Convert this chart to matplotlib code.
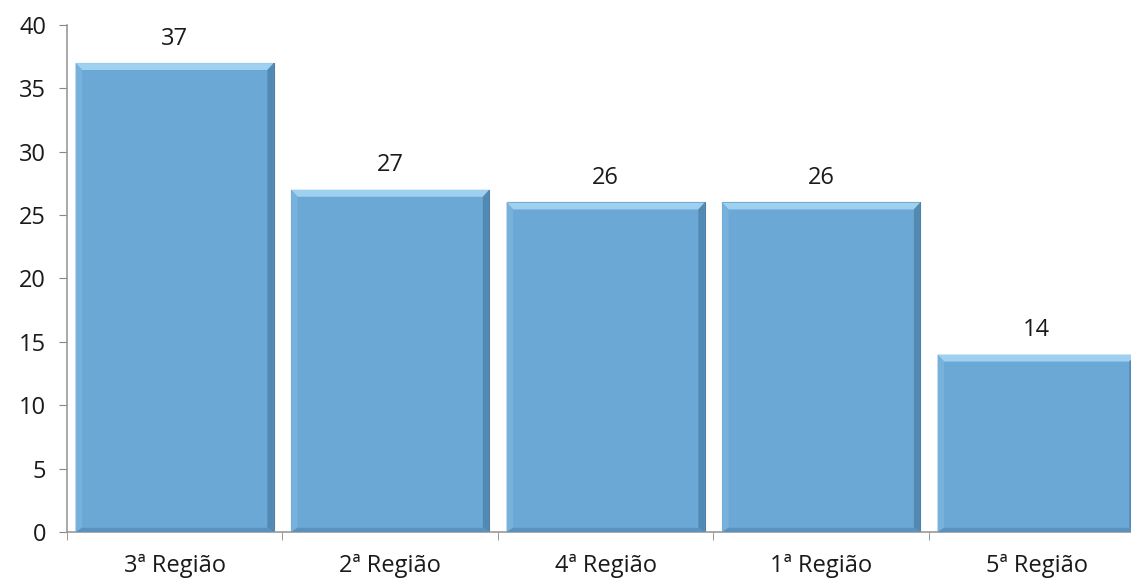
import matplotlib.pyplot as plt
from matplotlib.patches import Polygon

regioes = ['3ª Região', '2ª Região', '4ª Região', '1ª Região', '5ª Região']
valores = [37, 27, 26, 26, 14]
yticks = [0, 5, 10, 15, 20, 25, 30, 35, 40]

plt.rcParams['font.family'] = ['Open Sans', 'DejaVu Sans']

fig = plt.figure(figsize=(11.31, 5.79), dpi=100)
# a ultima barra passa da borda direita como no original
ax = fig.add_axes([0.0592, 0.0812, 0.9527, 0.8756])

x = list(range(len(regioes)))
bars = ax.bar(x, valores, width=0.92, color='#6CA8D5', edgecolor='#4D7FA6',
              linewidth=0.8, zorder=2)

# efeito de bisel: faixa clara em cima, sombra na direita e embaixo
bx, by = 0.03, 0.55
for b in bars:
    x0, w, h = b.get_x(), b.get_width(), b.get_height()
    x1 = x0 + w
    top = Polygon([(x0, h), (x1, h), (x1 - bx, h - by), (x0 + bx, h - by)],
                  closed=True, facecolor='#9ED0F0', edgecolor='none', zorder=3)
    right = Polygon([(x1, h), (x1, 0), (x1 - bx, by * 0.6), (x1 - bx, h - by)],
                    closed=True, facecolor='#5189B3', edgecolor='none', zorder=3)
    left = Polygon([(x0, h), (x0, 0), (x0 + bx, by * 0.6), (x0 + bx, h - by)],
                   closed=True, facecolor='#78B1DB', edgecolor='none', zorder=3)
    bot = Polygon([(x0, 0), (x1, 0), (x1 - bx, by * 0.6), (x0 + bx, by * 0.6)],
                  closed=True, facecolor='#5A92BD', edgecolor='none', zorder=3)
    for p in (top, right, left, bot):
        ax.add_patch(p)
    ax.annotate(str(int(h)), (b.get_x() + w / 2, h), xytext=(0, 9),
                textcoords='offset points', ha='center', va='bottom',
                fontsize=17, color='#1a1a1a')

ax.set_xlim(-0.5, len(regioes) - 0.5)
ax.set_ylim(0, 40)
ax.set_yticks(yticks)
ax.set_xticks(x)
ax.set_xticklabels(regioes, fontsize=17, color='#1a1a1a')
ax.set_xticks([i - 0.5 for i in range(len(regioes) + 1)], minor=True)
ax.tick_params(axis='x', which='major', length=0, pad=16)
ax.tick_params(axis='x', which='minor', length=6, color='#888888', direction='out')
ax.tick_params(axis='y', length=6, color='#888888', labelsize=17, pad=9,
               labelcolor='#1a1a1a')

for s in ['top', 'right']:
    ax.spines[s].set_visible(False)
for s in ['left', 'bottom']:
    ax.spines[s].set_color('#999999')
    ax.spines[s].set_linewidth(1.2)

fig.savefig('out.png', dpi=100)
